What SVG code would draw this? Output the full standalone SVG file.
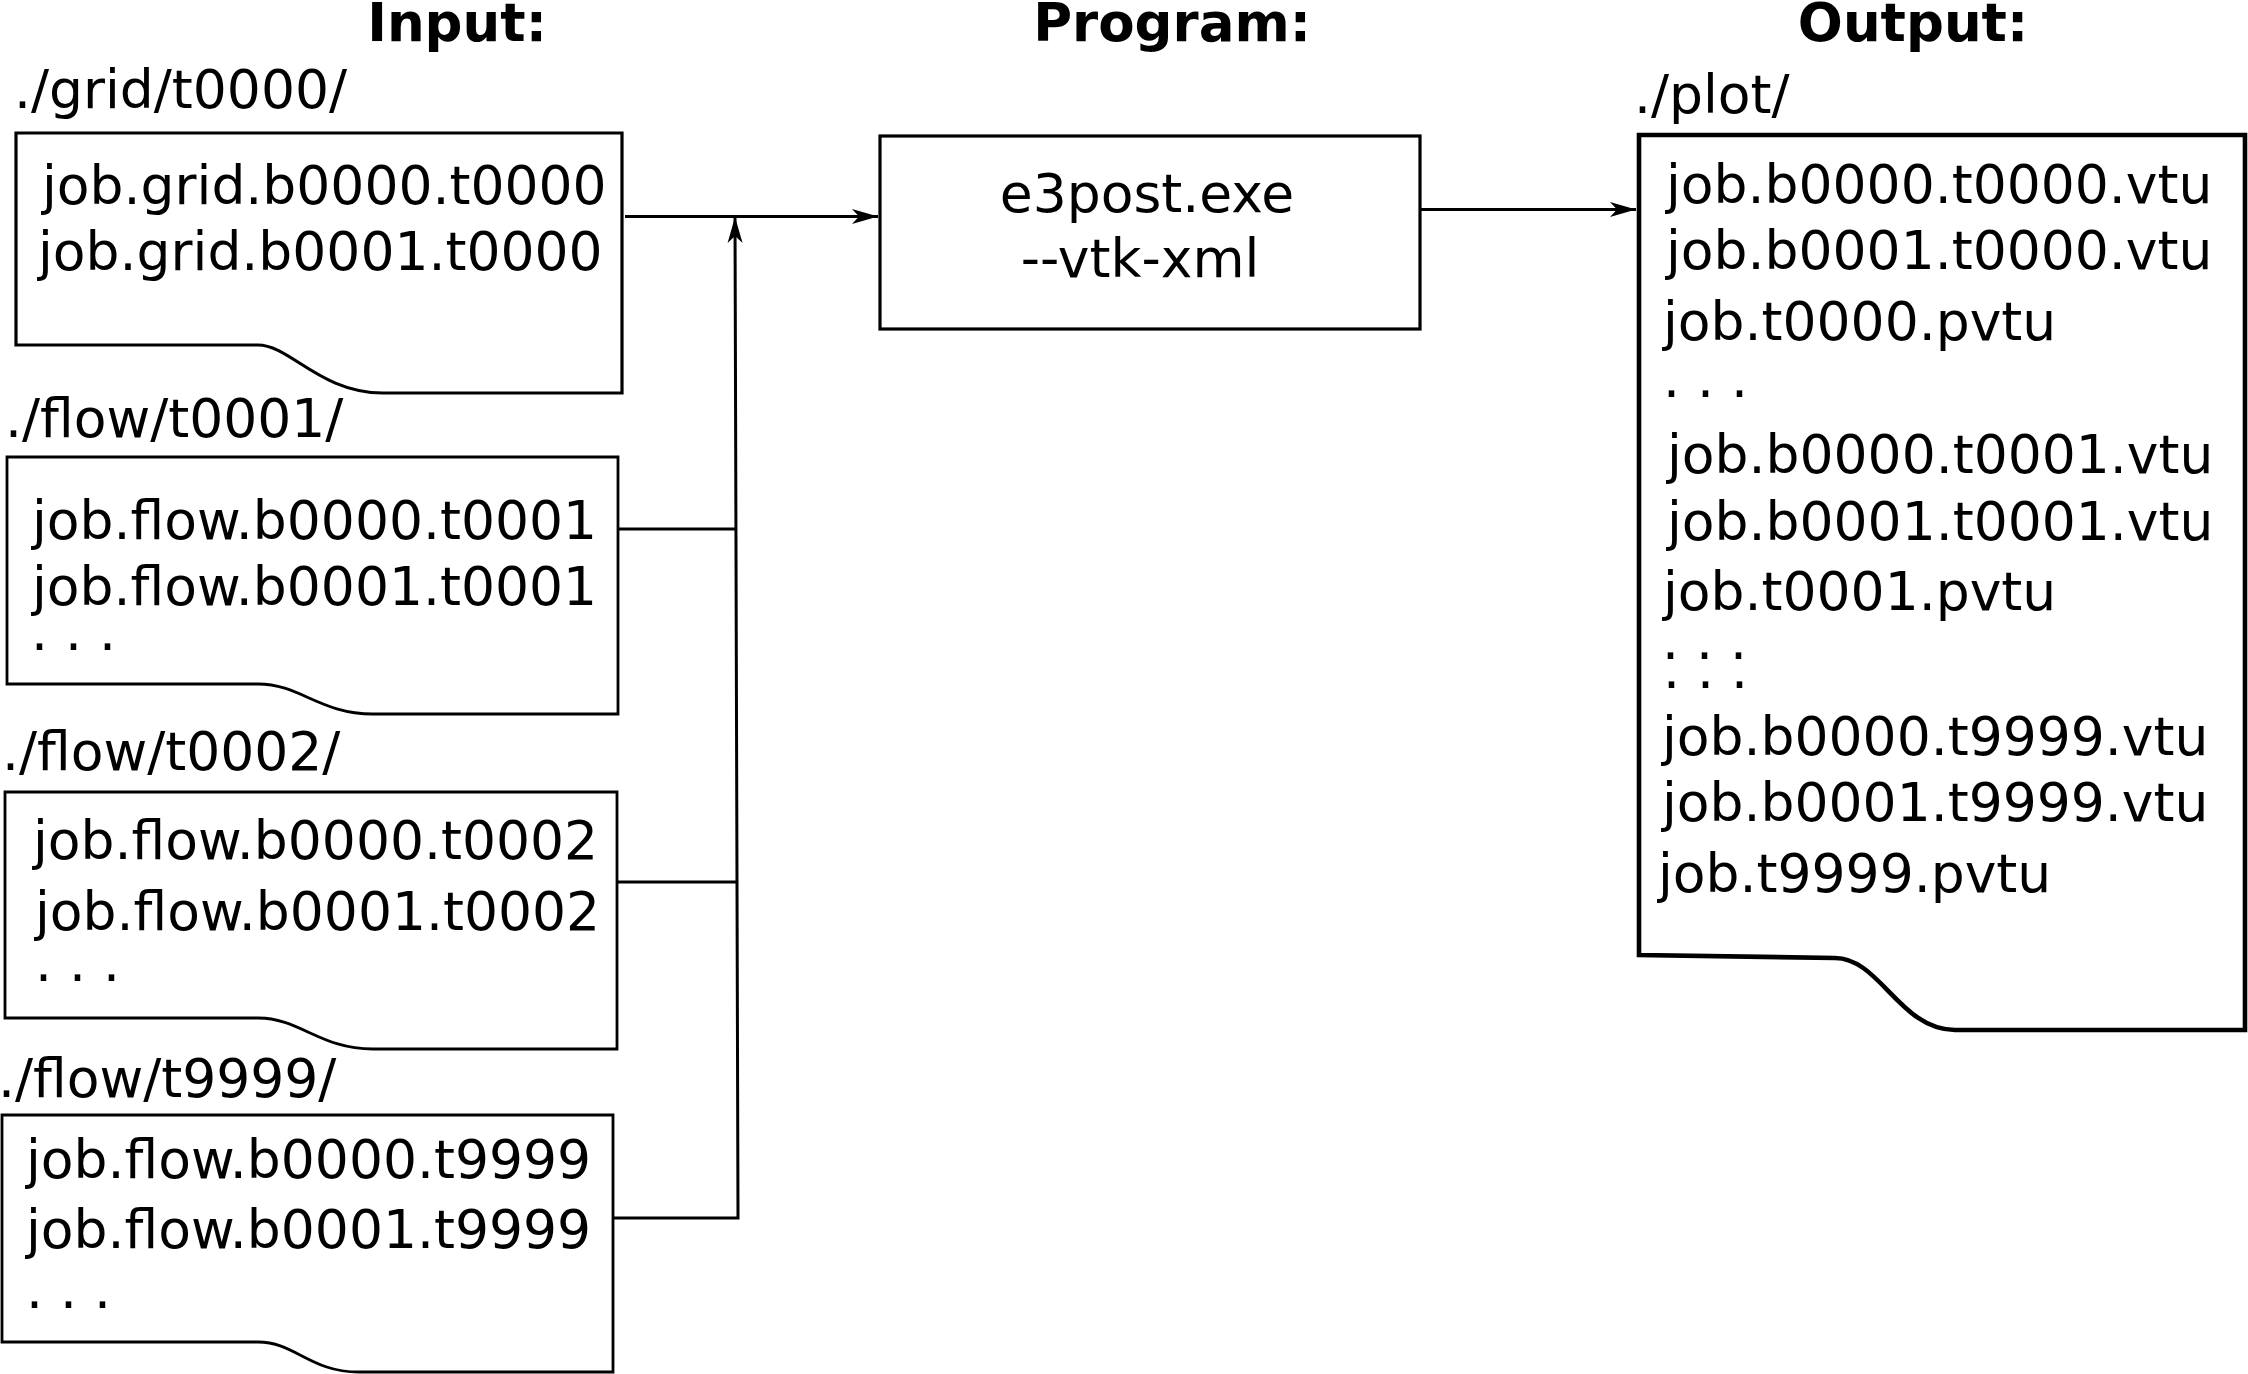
<svg xmlns="http://www.w3.org/2000/svg" width="2248" height="1374" viewBox="0 0 2248 1374">
<style>
text{font-family:"DejaVu Sans","Liberation Sans",sans-serif;font-size:53.5px;fill:#000}
.title{font-weight:bold;text-anchor:middle;font-size:53px}
.doc{fill:#fff;stroke:#000;stroke-width:2.8;stroke-linejoin:miter}
.doc1{stroke-width:3.2}
.out{stroke-width:4.6}
.con{fill:none;stroke:#000;stroke-width:3}
.mid{text-anchor:middle}
</style>
<defs>
<marker id="arr" markerUnits="userSpaceOnUse" viewBox="-28 -9 30 18" markerWidth="30" markerHeight="18" refX="0" refY="0" orient="auto">
<path d="M0,0 L-26,-7.5 L-19,0 L-26,7.5 Z" fill="#000"/>
</marker>
</defs>
<rect width="2248" height="1374" fill="#fff"/>

<g id="titles">
<text class="title" x="457" y="41">Input:</text>
<text class="title" x="1172" y="41">Program:</text>
<text class="title" x="1913" y="41">Output:</text>
</g>

<g id="connectors">
<line class="con" x1="625" y1="216.5" x2="878" y2="216.5" marker-end="url(#arr)"/>
<polyline class="con" points="613,1218 738,1218 735,217" marker-end="url(#arr)"/>
<line class="con" x1="618" y1="529" x2="736" y2="529"/>
<line class="con" x1="617" y1="882" x2="737" y2="882"/>
<line class="con" x1="1421" y1="209.5" x2="1636" y2="209.5" marker-end="url(#arr)"/>
</g>

<g id="input-grid-t0000">
<text x="14" y="108">./grid/t0000/</text>
<path class="doc doc1" d="M16,133 H622 V393 H383 C320,393 290,345 258,345 H16 Z"/>
<text x="42" y="204">job.grid.b0000.t0000</text>
<text x="38" y="270">job.grid.b0001.t0000</text>
</g>

<g id="input-flow-t0001">
<text x="5" y="437">./flow/t0001/</text>
<path class="doc" d="M7,457 H618 V714 H373 C320,714 300,684 258,684 H7 Z"/>
<text x="32" y="539">job.flow.b0000.t0001</text>
<text x="32" y="605">job.flow.b0001.t0001</text>
<text x="31" y="650">. . .</text>
</g>

<g id="input-flow-t0002">
<text x="2" y="770">./flow/t0002/</text>
<path class="doc" d="M5,792 H617 V1049 H373 C320,1049 300,1018 258,1018 H5 Z"/>
<text x="33" y="859">job.flow.b0000.t0002</text>
<text x="35" y="930">job.flow.b0001.t0002</text>
<text x="35" y="981">. . .</text>
</g>

<g id="input-flow-t9999">
<text x="-2" y="1097">./flow/t9999/</text>
<path class="doc" d="M2,1115 H613 V1372 H359 C310,1372 295,1342 258,1342 H2 Z"/>
<text x="26" y="1178">job.flow.b0000.t9999</text>
<text x="26" y="1248">job.flow.b0001.t9999</text>
<text x="26" y="1308">. . .</text>
</g>

<g id="program">
<rect class="doc doc1" x="880" y="136" width="540" height="193"/>
<text class="mid" x="1147" y="212">e3post.exe</text>
<text class="mid" x="1140" y="277">--vtk-xml</text>
</g>

<g id="output-plot">
<text x="1634" y="113">./plot/</text>
<path class="doc out" d="M1639,135 H2245 V1030 H1955 C1900,1030 1880,958 1835,958 L1639,955 Z"/>
<text x="1666" y="203">job.b0000.t0000.vtu</text>
<text x="1666" y="269">job.b0001.t0000.vtu</text>
<text x="1663" y="340">job.t0000.pvtu</text>
<text x="1663" y="397">. . .</text>
<text x="1667" y="473">job.b0000.t0001.vtu</text>
<text x="1667" y="540">job.b0001.t0001.vtu</text>
<text x="1663" y="610">job.t0001.pvtu</text>
<text x="1662" y="659">. . .</text>
<text x="1663" y="688">. . .</text>
<text x="1662" y="755">job.b0000.t9999.vtu</text>
<text x="1662" y="821">job.b0001.t9999.vtu</text>
<text x="1658" y="892">job.t9999.pvtu</text>
</g>
</svg>
